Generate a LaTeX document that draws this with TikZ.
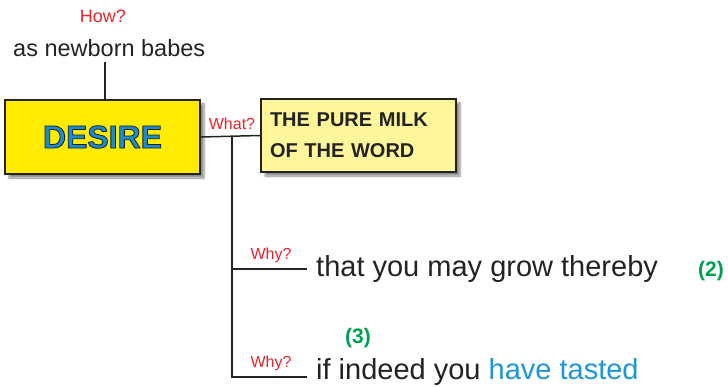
\documentclass[tikz,border=0pt]{standalone}
\usepackage{fontspec}
\setmainfont{Liberation Sans}
\newfontfamily\desirefont[FakeBold=2.5]{Liberation Sans Bold}
\usetikzlibrary{shadows.blur}
\definecolor{qred}{RGB}{235,35,45}
\definecolor{qblue}{RGB}{25,140,210}
\definecolor{qblue2}{RGB}{30,150,215}
\definecolor{qgreen}{RGB}{0,160,80}
\definecolor{qyellow}{RGB}{255,236,0}
\definecolor{qlight}{RGB}{255,245,155}
\definecolor{qline}{RGB}{35,35,35}
\definecolor{qtext}{RGB}{35,35,35}
\tikzset{
  qbox/.style={draw=qline, line width=1.6pt, minimum width=195pt, inner sep=0pt,
    blur shadow={shadow xshift=4pt, shadow yshift=-4pt, shadow blur steps=6, shadow opacity=45}},
  qask/.style={text=qred, font=\fontsize{16}{16}\selectfont, inner sep=0pt},
  qconn/.style={draw=qline, line width=1.5pt},
  qbig/.style={text=qtext, font=\fontsize{29}{29}\selectfont, inner sep=0pt, anchor=base west},
  qnum/.style={text=qgreen, font=\bfseries\fontsize{21}{21}\selectfont, inner sep=0pt}
}
\begin{document}
\begin{tikzpicture}[x=1pt,y=-1pt]
\useasboundingbox (0,0) rectangle (728,387);
% boxes
\node[qbox, fill=qyellow, minimum height=74pt] (desire) at (102.5,137)
  {\fontsize{32}{32}\desirefont\textcolor{qblue}{\special{pdf:literal direct 0.12 0.12 0.12 RG}DESIRE}};
\node[qbox, fill=qlight, minimum height=73pt, text width=177pt, inner xsep=9pt, align=left,
  text=qtext, font=\bfseries\fontsize{20}{31}\selectfont] (milk) at (358.5,135.5)
  {THE PURE MILK\\OF THE WORD};
% texts
\node[text=qtext, font=\fontsize{23.5}{23.5}\selectfont, inner sep=0pt, anchor=base west] (babes) at (13,57) {as newborn babes};
\node[qask, font=\fontsize{18}{18}\selectfont] (how) at (103,16) {How?};
\node[qask] (what) at (232,124) {What?};
\node[qask] (why1) at (271,255) {Why?};
\node[qask] (why2) at (271,363) {Why?};
\node[qbig] (grow) at (316,277) {that you may grow thereby};
\node[qbig] (tasted) at (316,379) {if indeed you \textcolor{qblue2}{have tasted}};
\node[qnum, anchor=base west] (n2) at (698,277) {(2)};
\node[qnum] (n3) at (358,338) {(3)};
% connectors
\coordinate (babesfoot) at (105,62);
\coordinate (jtop) at (232,137);
\coordinate (jmid) at (232,269);
\coordinate (jbot) at (232,377);
\coordinate (e1) at (307,269);
\coordinate (e2) at (307,377);
\draw[qconn] (babesfoot) -- (babesfoot |- desire.north);
\draw[qconn] (desire.east) -- (milk.west);
\draw[qconn] (jtop) -- (jbot) -- (e2);
\draw[qconn] (jmid) -- (e1);
\end{tikzpicture}
\end{document}
